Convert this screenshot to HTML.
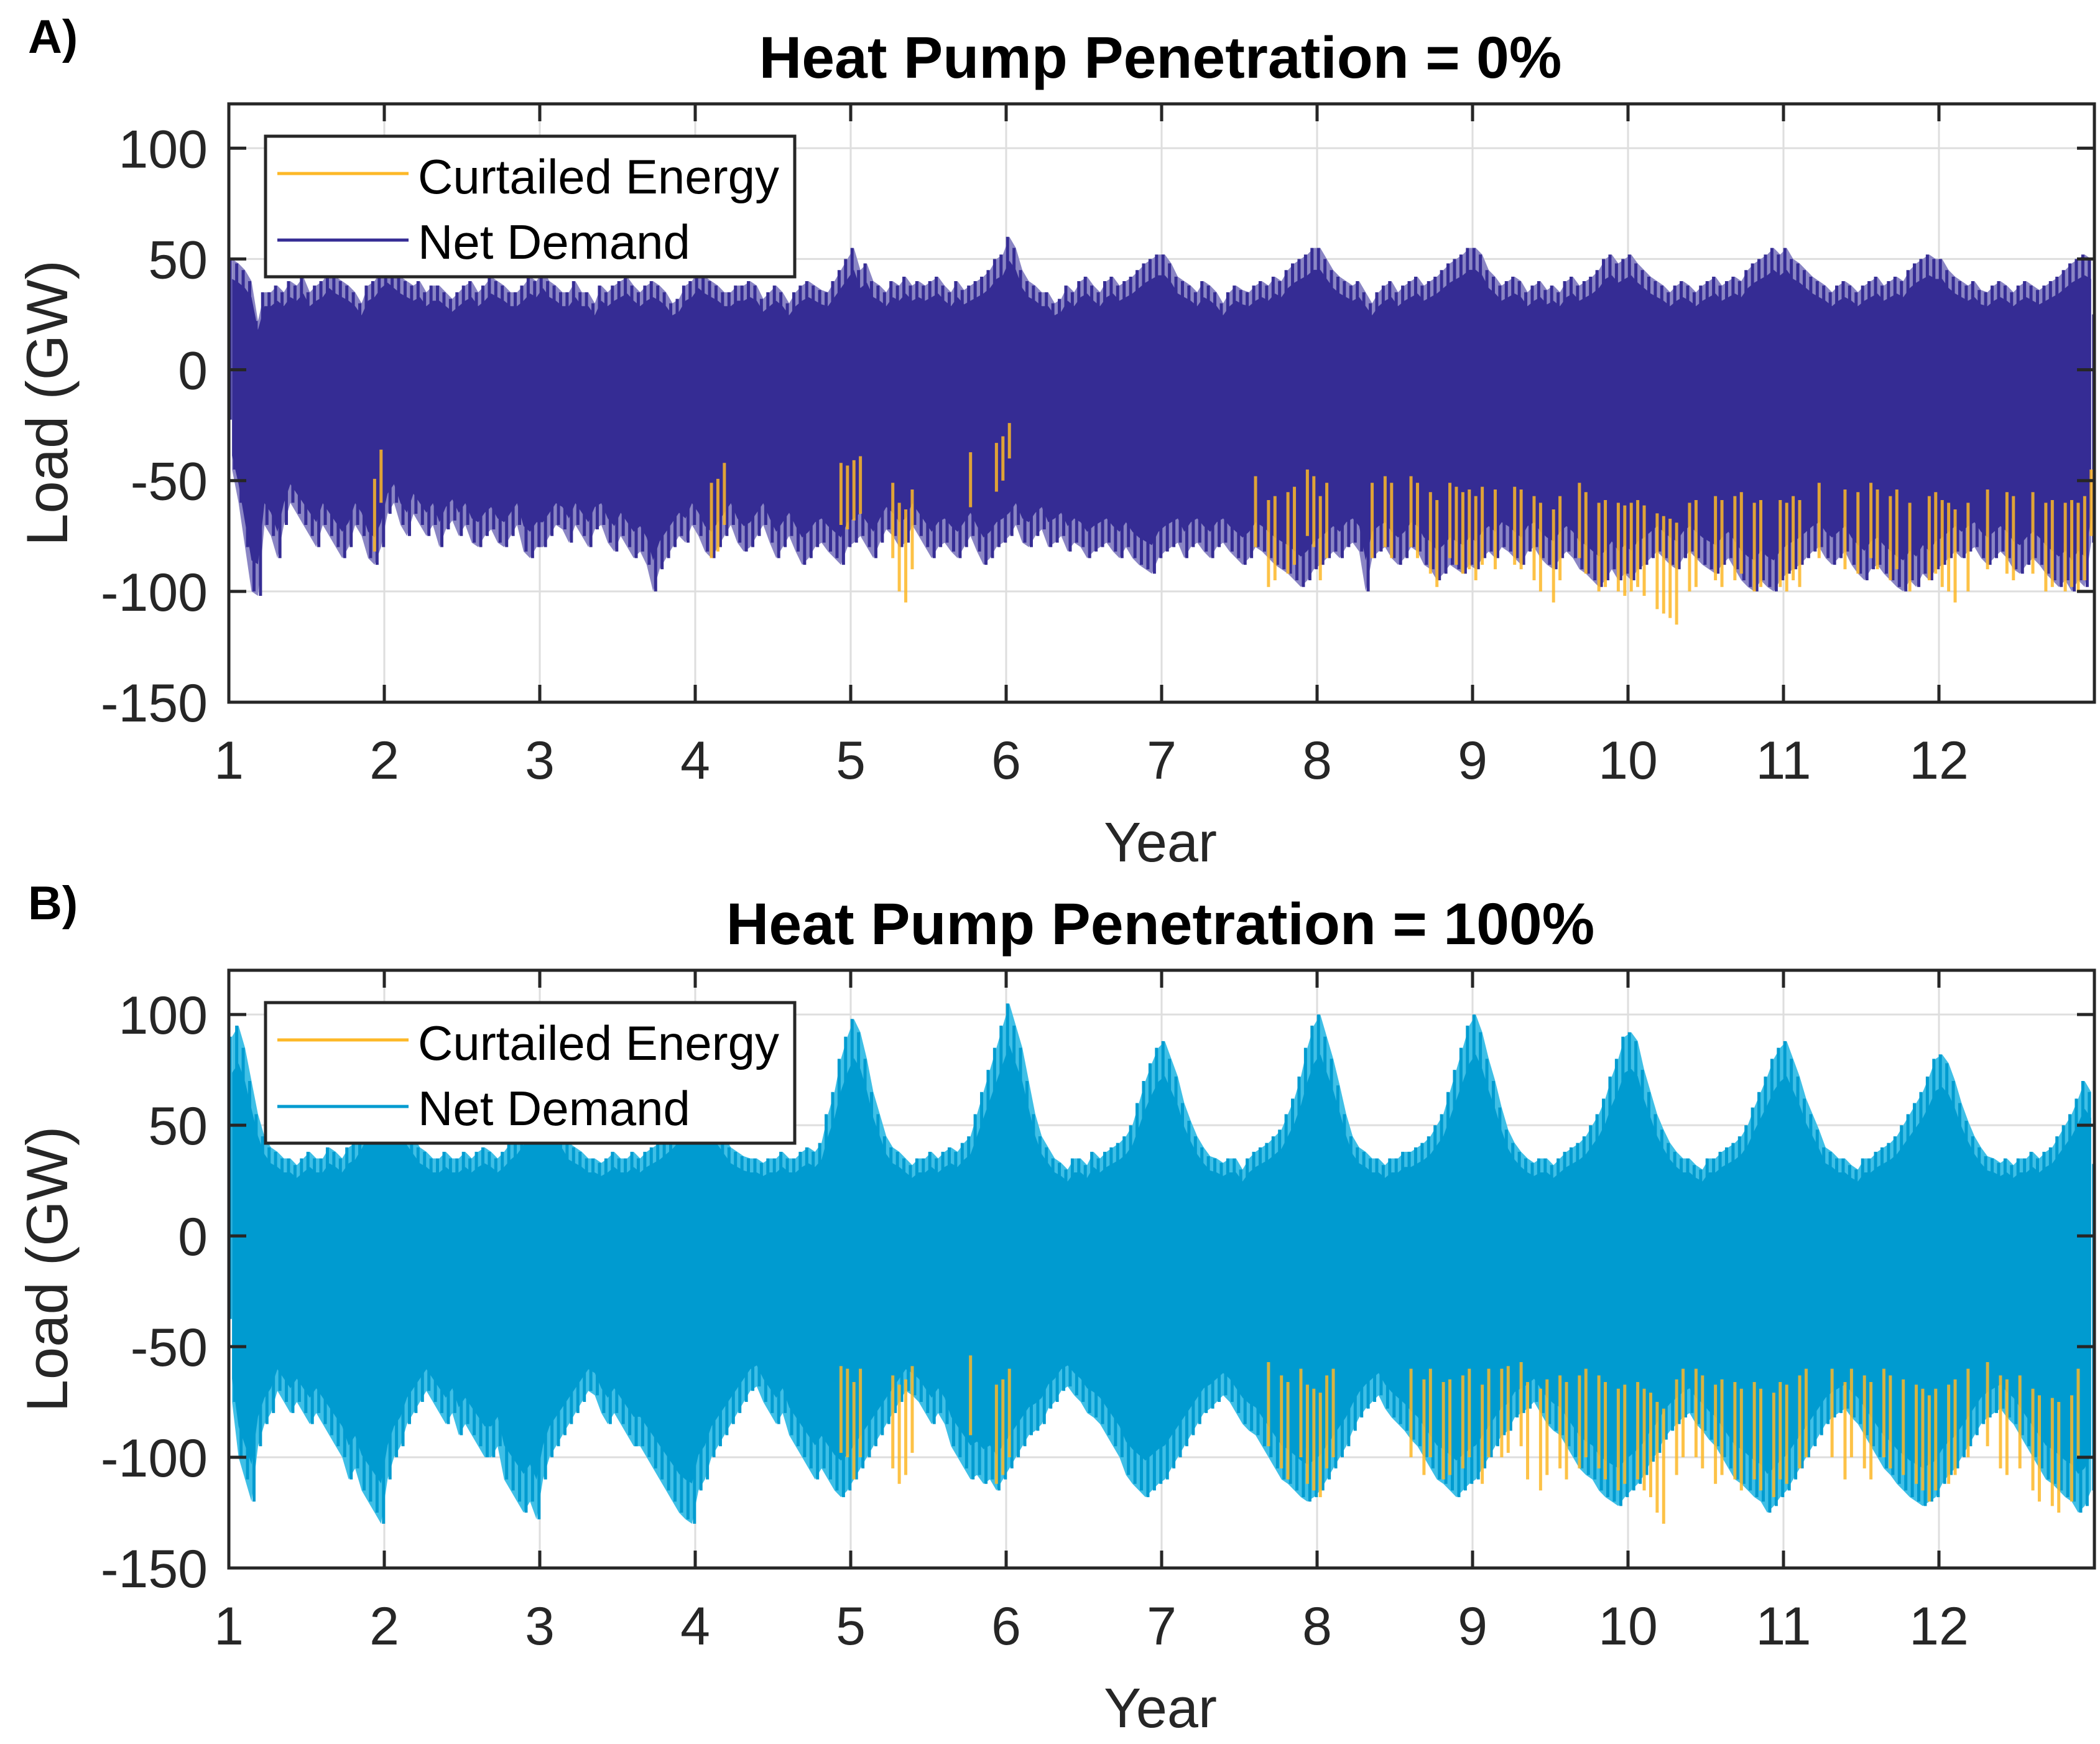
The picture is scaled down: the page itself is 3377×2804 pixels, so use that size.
<!DOCTYPE html>
<html><head><meta charset="utf-8">
<style>
html,body{margin:0;padding:0;background:#fff;}
svg{display:block;font-family:"Liberation Sans",Arial,sans-serif;}
</style></head>
<body>
<svg id="fig" width="3377" height="2804" viewBox="0 0 3377 2804" xmlns="http://www.w3.org/2000/svg"></svg>
<script>
// ---- data (half-month bins, 24 per year, years 1..12) ----
const years = [1,2,3,4,5,6,7,8,9,10,11,12,13];
const yTicks = [100,50,0,-50,-100,-150];
const xTickLabels = ["1","2","3","4","5","6","7","8","9","10","11","12"];

const maxA = [
50,48,45,40,22,35,35,38,35,40,38,42,35,38,40,45,42,40,38,35,30,38,40,45,
48,45,42,40,38,40,35,38,38,35,32,35,38,40,35,38,42,40,38,35,35,38,42,40,
45,40,38,35,35,40,35,35,30,38,35,38,40,42,38,35,38,40,38,35,30,32,38,40,
45,42,40,38,35,35,38,38,40,38,32,35,38,35,30,35,38,40,38,36,35,40,45,50,
55,45,48,40,38,35,40,38,42,38,40,38,40,42,38,35,40,36,38,40,42,45,50,52,
60,55,45,40,38,35,35,30,32,38,35,40,42,38,35,40,42,38,40,42,45,48,50,52,
52,48,42,40,38,35,40,38,35,30,35,38,36,35,38,40,38,42,40,45,48,50,52,55,
55,50,45,42,40,38,40,35,30,35,38,40,35,38,40,42,38,40,42,45,48,50,52,55,
55,52,45,42,38,40,42,40,35,38,40,36,38,35,40,42,38,40,42,45,50,52,48,50,
52,48,45,42,40,38,35,38,40,38,35,38,40,42,38,40,42,40,45,48,50,52,55,52,
55,50,48,45,42,40,38,35,38,40,38,35,38,40,42,38,40,42,40,45,48,50,52,50,
50,45,42,40,38,40,36,35,38,40,38,35,38,40,38,36,38,40,42,45,48,50,52,50];
const minA = [
-45,-60,-80,-100,-102,-70,-75,-85,-70,-60,-65,-70,-75,-80,-70,-75,-80,-85,-80,-70,-75,-85,-88,-80,
-65,-60,-70,-75,-65,-70,-75,-70,-80,-72,-68,-75,-70,-78,-80,-75,-72,-78,-80,-75,-70,-82,-85,-80,
-80,-75,-70,-72,-78,-70,-75,-80,-72,-70,-78,-82,-75,-80,-85,-82,-88,-100,-90,-85,-80,-75,-78,-70,
-75,-82,-85,-80,-75,-70,-78,-82,-80,-75,-70,-78,-85,-80,-75,-82,-88,-85,-80,-78,-82,-85,-88,-80,
-78,-75,-80,-85,-78,-72,-75,-80,-78,-70,-75,-80,-85,-80,-78,-82,-85,-80,-75,-82,-88,-85,-80,-78,
-75,-70,-78,-80,-75,-72,-80,-78,-75,-82,-78,-80,-85,-82,-80,-78,-82,-85,-80,-85,-88,-90,-92,-85,
-82,-80,-78,-85,-80,-78,-82,-85,-80,-78,-82,-85,-88,-85,-80,-82,-85,-88,-90,-92,-95,-98,-95,-90,
-88,-85,-82,-85,-80,-78,-82,-100,-85,-82,-80,-85,-88,-85,-80,-82,-88,-90,-95,-92,-88,-90,-92,-88,
-90,-85,-82,-85,-80,-82,-85,-88,-82,-80,-85,-88,-90,-85,-82,-85,-90,-92,-95,-98,-95,-90,-95,-92,
-95,-90,-88,-85,-82,-85,-88,-90,-85,-82,-85,-88,-90,-92,-88,-85,-90,-95,-98,-100,-95,-98,-100,-95,
-92,-90,-88,-85,-82,-80,-85,-88,-85,-82,-88,-92,-95,-90,-88,-92,-95,-98,-100,-95,-98,-92,-95,-90,
-88,-85,-82,-85,-82,-80,-85,-88,-85,-82,-85,-90,-92,-88,-85,-88,-92,-95,-98,-95,-100,-95,-98,-78];
const curtA = [
0,0,0,0,0,0,0,0,0,0,0,0,0,0,0,0,0,0,0,0,0,0,-82,-60,
0,0,0,0,0,0,0,0,0,0,0,0,0,0,0,0,0,0,0,0,0,0,0,0,
0,0,0,0,0,0,0,0,0,0,0,0,0,0,0,0,0,0,0,0,0,0,0,0,
0,0,-85,-82,-70,0,0,0,0,0,0,0,0,0,0,0,0,0,0,0,0,0,-70,-72,
-68,-65,0,0,0,0,-85,-100,-105,-90,0,0,0,0,0,0,0,0,-62,0,0,0,-55,-50,
-40,0,0,0,0,0,0,0,0,0,0,0,0,0,0,0,0,0,0,0,0,0,0,0,
0,0,0,0,0,0,0,0,0,0,0,0,0,0,-80,0,-98,-95,0,-92,-88,0,-75,-80,
-95,-85,0,0,0,0,0,0,-85,0,-80,-85,0,0,-80,-85,0,-92,-98,0,-85,-88,-92,-90,
-95,-88,0,-90,0,0,-88,-90,0,-95,-100,0,-105,-95,0,0,-85,-92,0,-100,-98,0,-100,-102,
-100,-98,-102,0,-108,-110,-112,-115,0,-100,-98,0,0,-95,-98,0,-95,-92,0,-100,-98,0,0,-98,
-100,-95,-98,0,0,-85,0,0,0,-90,0,-92,0,-85,-90,0,-95,-90,0,-100,0,0,-95,-92,
-98,-100,-105,0,-100,0,0,-90,0,0,-92,-95,0,0,-92,0,-100,-98,0,-100,-98,-100,-95,-75];

const maxB = [
90,95,85,70,55,45,40,38,35,35,32,35,38,35,35,40,38,35,40,42,48,55,62,70,
72,65,58,50,45,40,38,35,35,38,35,35,38,35,38,40,38,35,38,42,45,50,55,60,
62,58,52,48,42,40,38,35,35,33,35,38,35,35,38,35,38,40,42,45,48,52,58,62,
65,60,55,50,45,40,38,36,35,35,33,35,35,38,35,35,38,40,38,42,55,65,80,90,
98,92,80,65,55,45,40,38,35,32,35,35,38,35,38,40,38,42,45,55,65,75,85,95,
105,95,85,70,55,45,40,35,33,30,35,35,32,38,35,38,40,42,45,50,60,70,78,85,
88,80,72,60,52,45,40,36,35,33,35,35,30,35,38,40,42,45,48,55,62,72,85,95,
100,90,80,68,55,45,40,38,35,35,32,35,35,38,38,40,42,45,50,55,65,75,85,95,
100,92,80,70,58,48,42,38,35,33,35,35,32,35,38,40,42,45,50,55,62,72,80,90,
92,88,75,65,55,48,42,38,35,35,32,30,35,35,38,40,42,45,50,58,65,72,80,85,
88,80,72,62,55,48,40,38,35,35,32,30,35,35,38,40,42,45,50,55,60,65,72,80,
82,78,70,60,52,45,40,36,35,33,35,32,35,35,38,35,38,40,45,50,55,62,70,65];
const minB = [
-75,-100,-110,-120,-95,-85,-80,-70,-75,-80,-75,-80,-85,-80,-85,-90,-95,-100,-110,-105,-115,-120,-125,-130,
-110,-100,-95,-85,-80,-75,-70,-75,-80,-85,-80,-90,-85,-90,-95,-100,-100,-95,-110,-115,-120,-125,-120,-128,
-110,-100,-95,-90,-85,-80,-75,-70,-72,-80,-85,-80,-85,-90,-95,-95,-100,-105,-110,-115,-120,-125,-128,-130,
-115,-110,-100,-95,-90,-85,-80,-75,-70,-68,-75,-80,-85,-80,-90,-95,-100,-105,-110,-105,-110,-115,-118,-115,
-110,-105,-100,-95,-90,-85,-80,-75,-70,-72,-75,-80,-85,-80,-85,-95,-100,-105,-110,-108,-112,-110,-115,-110,
-105,-100,-95,-90,-88,-85,-78,-75,-70,-68,-72,-75,-80,-82,-85,-90,-95,-100,-108,-112,-115,-118,-115,-112,
-110,-105,-100,-95,-90,-85,-80,-78,-75,-72,-75,-80,-85,-88,-90,-95,-100,-105,-110,-112,-115,-118,-120,-118,
-115,-110,-105,-100,-95,-88,-82,-78,-75,-72,-78,-82,-85,-88,-92,-95,-100,-105,-110,-112,-115,-118,-115,-112,
-110,-105,-100,-95,-90,-88,-82,-80,-78,-75,-80,-85,-88,-90,-95,-100,-105,-108,-110,-115,-118,-120,-122,-118,
-115,-112,-108,-102,-98,-92,-88,-85,-82,-80,-85,-88,-92,-95,-100,-105,-110,-112,-115,-118,-120,-125,-122,-118,
-115,-110,-105,-100,-95,-90,-85,-82,-80,-78,-82,-85,-90,-95,-100,-105,-108,-112,-115,-118,-120,-122,-120,-118,
-112,-108,-105,-100,-95,-90,-85,-82,-80,-78,-82,-85,-90,-95,-100,-105,-110,-112,-115,-118,-120,-125,-122,-115];
const curtB = [
0,0,0,0,0,0,0,0,0,0,0,0,0,0,0,0,0,0,0,0,0,0,0,0,
0,0,0,0,0,0,0,0,0,0,0,0,0,0,0,0,0,0,0,0,0,0,0,0,
0,0,0,0,0,0,0,0,0,0,0,0,0,0,0,0,0,0,0,0,0,0,0,0,
0,0,0,0,0,0,0,0,0,0,0,0,0,0,0,0,0,0,0,0,0,0,-98,-100,
-110,-100,0,0,0,0,-105,-112,-108,-98,0,0,0,0,0,0,0,0,-90,0,0,0,-112,-108,
-100,0,0,0,0,0,0,0,0,0,0,0,0,0,0,0,0,0,0,0,0,0,0,0,
0,0,0,0,0,0,0,0,0,0,0,0,0,0,0,0,-95,0,-105,-110,0,-100,-112,-115,
-118,-105,-100,0,0,0,0,0,0,0,0,0,0,0,-100,0,-108,-100,0,-110,-108,0,
-105,-100,0,-112,-100,0,-100,-98,0,-95,-110,0,-115,-108,0,-105,-110,0,-105,-100,0,-105,-110,0,
-115,-112,0,-110,-115,-118,-125,-130,0,-108,-100,0,-100,-105,0,-112,-108,0,-110,-115,0,-110,-115,0,
-118,-110,-112,0,-105,-100,0,0,0,-100,0,-110,-100,0,-105,-110,0,-100,-105,0,-108,0,-112,-115,
-120,-115,0,-112,-108,0,-100,0,0,-95,0,-105,-108,0,-105,0,-115,-120,0,-122,-125,0,-120,-100];

// ---- layout ----
const NS = "http://www.w3.org/2000/svg";
const svg = document.getElementById('fig');
function mk(tag, attrs, parent){ const e=document.createElementNS(NS,tag); for(const k in attrs) e.setAttribute(k,attrs[k]); (parent||svg).appendChild(e); return e; }
const X0=368, X1=3368, XMIN=1, XMAX=13;
function xs(v){ return X0 + (v-XMIN)/(XMAX-XMIN)*(X1-X0); }

function panel(top, bottom, maxS, minS, curtS, dark, light, title, letter, key){
  const YMIN=-150, YMAX=120;
  const ys = v => bottom - (v-YMIN)/(YMAX-YMIN)*(bottom-top);
  const g = mk('g',{});
  
  
  const grid = mk('g',{stroke:'#dedede','stroke-width':3},g);
  
  
  for(let i=1;i<years.length-1;i++){ mk('line',{x1:xs(years[i]),x2:xs(years[i]),y1:top,y2:bottom},grid); }
  yTicks.forEach(t=>{ mk('line',{x1:X0,x2:X1,y1:ys(t),y2:ys(t)},grid); });
  const n = maxS.length;
  const bx = i => xs(1 + (i+0.5)/24);
  let outer=[], inner=[];
  for(let i=0;i<n;i++){ outer.push(bx(i)+','+ys(maxS[i])); inner.push(bx(i)+','+ys(maxS[i]*0.82)); }
  for(let i=n-1;i>=0;i--){ outer.push(bx(i)+','+ys(minS[i])); inner.push(bx(i)+','+ys(minS[i]*0.86)); }
  const s1 = mk('polygon',{points:outer.join(' '),fill:light},g);
  
  
  const sp = mk('g',{stroke:dark,'stroke-width':5},g);
  
  
  for(let i=0;i<n;i++){
    mk('line',{x1:bx(i)-3,x2:bx(i)-3,y1:ys(maxS[i]),y2:ys(minS[i]*0.5)},sp);
    mk('line',{x1:bx(i)+4,x2:bx(i)+4,y1:ys(maxS[i]*0.5),y2:ys(minS[i])},sp);
  }
  const s2 = mk('polygon',{points:inner.join(' '),fill:dark},g);
  
  
  const cg = mk('g',{stroke:'#fdb827','stroke-width':5,opacity:0.85},g);
  
  
  for(let i=0;i<n;i++){
    if(curtS[i]<0){
      mk('line',{x1:bx(i),x2:bx(i),y1:ys(curtS[i]*0.6),y2:ys(curtS[i])},cg);
    }
  }
  const ax = mk('g',{stroke:'#262626','stroke-width':5,fill:'none'},g);
  
  
  mk('rect',{x:X0,y:top,width:X1-X0,height:bottom-top},ax);
  for(let i=1;i<years.length-1;i++){
    const x=xs(years[i]);
    mk('line',{x1:x,x2:x,y1:bottom,y2:bottom-28},ax);
    mk('line',{x1:x,x2:x,y1:top,y2:top+28},ax);
  }
  yTicks.forEach(t=>{ const y=ys(t); mk('line',{x1:X0,x2:X0+28,y1:y,y2:y},ax); mk('line',{x1:X1,x2:X1-28,y1:y,y2:y},ax); });
  const tl = mk('g',{fill:'#262626','font-size':86},g);
  
  
  yTicks.forEach(t=>{ const e=mk('text',{x:X0-34,y:ys(t)+31,'text-anchor':'end'},tl); e.textContent=String(t); });
  xTickLabels.forEach((l,i)=>{ const e=mk('text',{x:xs(i+1),y:bottom+123,'text-anchor':'middle'},tl); e.textContent=l; });
  const yl = mk('text',{x:0,y:0,'font-size':94,fill:'#262626','text-anchor':'middle',transform:`translate(108,${(top+bottom)/2}) rotate(-90)`},g);
  yl.textContent='Load (GW)';
  
  
  const xl = mk('text',{x:1866,y:bottom+256,'font-size':90,fill:'#262626','text-anchor':'middle'},g);
  xl.textContent='Year';
  
  
  const tt = mk('text',{x:1866,y:top-42,'font-size':95,'font-weight':'bold',fill:'#000','text-anchor':'middle'},g);
  tt.textContent=title;
  
  
  const lt = mk('text',{x:45,y:top-82,'font-size':76,'font-weight':'bold',fill:'#000'},g);
  lt.textContent=letter;
  
  
  const lg = mk('g',{},g);
  
  
  const ly = top+52;
  mk('rect',{x:427,y:ly,width:851,height:226,fill:'#fff',stroke:'#262626','stroke-width':5},lg);
  const e1 = mk('g',{},lg);
  
  
  mk('line',{x1:446,x2:657,y1:ly+60,y2:ly+60,stroke:'#fdb827','stroke-width':5},e1);
  const t1=mk('text',{x:672,y:ly+92,'font-size':78,fill:'#000'},e1); t1.textContent='Curtailed Energy';
  const e2 = mk('g',{},lg);
  
  
  mk('line',{x1:446,x2:657,y1:ly+167,y2:ly+167,stroke:dark,'stroke-width':5},e2);
  const t2=mk('text',{x:672,y:ly+197,'font-size':78,fill:'#000'},e2); t2.textContent='Net Demand';
}
panel(167,1129,maxA,minA,curtA,'#352c94','#8a85c4','Heat Pump Penetration = 0%','A)','panel-a');
panel(1560,2521,maxB,minB,curtB,'#009bd0','#3fbfe6','Heat Pump Penetration = 100%','B)','panel-b');
</script>
</body></html>
